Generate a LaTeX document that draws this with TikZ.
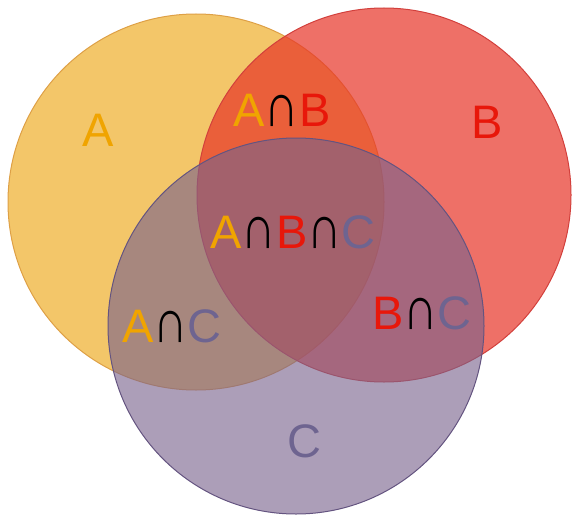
\documentclass[tikz,border=0pt]{standalone}
\usepackage{fontspec}
\usepackage{graphicx}
\setmainfont{Liberation Sans}
\definecolor{setA}{RGB}{238,174,42}
\definecolor{setB}{RGB}{231,51,39}
\definecolor{setC}{RGB}{121,98,140}
\definecolor{edgeA}{RGB}{222,160,70}
\definecolor{edgeB}{RGB}{210,64,60}
\definecolor{edgeC}{RGB}{100,84,128}
\definecolor{txtA}{RGB}{240,164,0}
\definecolor{txtB}{RGB}{232,23,10}
\definecolor{txtC}{RGB}{110,100,144}
\newcommand{\capA}{\textcolor{txtA}{A}}
\newcommand{\capB}{\textcolor{txtB}{B}}
\newcommand{\capC}{\textcolor{txtC}{C}}
\newcommand{\inter}{\textcolor{black}{\scalebox{1.02}[1.32]{∩}}}
\begin{document}
\begin{tikzpicture}[x=1pt,y=-1pt,
  setcircle/.style={line width=1pt},
  setlabel/.style={inner sep=0pt, font=\fontsize{47}{47}\selectfont}]
\useasboundingbox (0,0) rectangle (572,516);
% the three sets
\filldraw[setcircle, fill=setA, fill opacity=0.7, draw=edgeA] (196,202) circle (188);
\filldraw[setcircle, fill=setB, fill opacity=0.7, draw=edgeB] (384,195) circle (187);
\filldraw[setcircle, fill=setC, fill opacity=0.62, draw=edgeC] (296,326) circle (188);
% region labels
\node[setlabel] (la) at (98,130) {\capA};
\node[setlabel] (lb) at (487,122) {\capB};
\node[setlabel] (lc) at (304,441) {\capC};
\node[setlabel] (lab) at (282,110) {\capA\inter\capB};
\node[setlabel] (lac) at (172,326) {\capA\inter\capC};
\node[setlabel] (lbc) at (422,313) {\capB\inter\capC};
\node[setlabel] (labc) at (293,232) {\capA\inter\capB\inter\capC};
\end{tikzpicture}
\end{document}
